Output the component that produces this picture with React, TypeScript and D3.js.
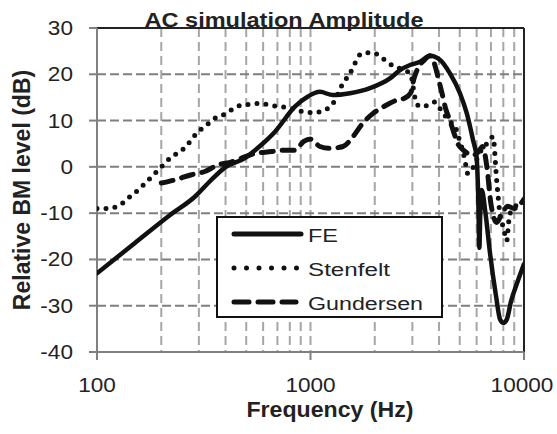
import * as d3 from 'd3';

// values
const feFreq = [100, 150, 220, 288, 340, 398, 493, 580, 682, 845, 973, 1107, 1274, 1531, 1900, 2356, 2625, 2926, 3260, 3631, 4046, 4500, 5011, 5392, 5770, 6000, 6100, 6180, 6240, 6340, 6600, 6930, 7400, 7730, 8000, 8300, 8700, 9300, 10000];
const feDb = [-23, -16.5, -10.4, -6.4, -3, -0.1, 1.9, 4.5, 7.6, 13, 15.2, 16.2, 15.5, 15.9, 17, 19.1, 20.9, 22, 22.7, 24, 23.1, 20.2, 15.9, 11.6, 5.8, 2, -6, -17.5, -10, -5, -10, -18.6, -28, -33, -33.7, -33, -29, -25, -21];

const stenFreq = [100, 110, 125, 143, 156, 171, 187, 204, 224, 249, 272, 293, 320, 357, 398, 451, 511, 580, 667, 780, 910, 1028, 1171, 1274, 1418, 1531, 1616, 1735, 1950, 2165, 2400, 2700, 2950, 3030, 3100, 3250, 3500, 3830, 4130, 4500, 4780, 4930, 5100, 5270, 5460, 5800, 6200, 6700, 7160, 7450, 7750, 8000, 8300, 8550, 8900, 9500, 10000];
const stenDb = [-9, -9, -8.5, -6.4, -5, -3.2, -1.4, 0.4, 2.2, 3.5, 5.4, 7.3, 8.7, 10.5, 11.4, 13, 13.5, 13.7, 13.2, 12.8, 12, 11.7, 12.3, 13.7, 18, 20.2, 22.4, 24.5, 24.7, 23.5, 22, 21, 20, 17, 14.5, 13, 13.2, 14, 11.9, 9.8, 8.5, 6.5, 4.4, 1.8, -1.5, 0, 3, 5, 6.5, -3, -10.8, -13, -16, -10.5, -9, -8, -7.5];

const gunFreq = [200, 232, 277, 320, 368, 428, 476, 550, 658, 730, 845, 930, 1000, 1107, 1232, 1420, 1580, 1735, 1970, 2200, 2530, 2750, 2950, 3050, 3200, 3400, 3630, 3800, 3950, 4150, 4300, 4500, 4700, 4900, 5200, 5500, 5800, 6100, 6400, 6700, 7000, 7450, 7900, 8400, 9000, 10000];
const gunDb = [-3.5, -2.8, -1.7, -1, 0.4, 1.1, 1.9, 2.9, 3.3, 3.6, 3.6, 5.5, 6, 4.4, 4, 4.4, 6.5, 9.1, 11.6, 13, 14.4, 14.8, 16, 19, 21.5, 23, 24, 22.4, 19.5, 15.5, 12.5, 10, 7.3, 5, 3.6, 2.8, 2.5, 3.2, 4.4, 0, -8, -12, -10, -8.5, -9, -7];

const yTicks = [-40, -30, -20, -10, 0, 10, 20, 30];
const xTicks = [100, 1000, 10000];
const xGrid = [200, 300, 400, 500, 600, 700, 800, 900, 1000, 2000, 3000, 4000, 5000, 6000, 7000, 8000, 9000];

const W = 557;
const H = 434;
const left = 97, right = 524, top = 28, bottom = 352;
const font = '"Liberation Sans", Arial, sans-serif';

// the reference glyphs are wider than Arial, so stretch them a bit
const Label = ({ x, y, anchor, size, sx, children, bold }: any) => (
  <text transform={`translate(${x},${y}) scale(${sx},1)`} textAnchor={anchor}
    fontFamily={font} fontSize={size} fontWeight={bold ? 'bold' : 'normal'} fill="#222">{children}</text>
);

export default function App() {
  const x = d3.scaleLog().domain([100, 10000]).range([left, right]);
  const y = d3.scaleLinear().domain([-40, 30]).range([bottom, top]);

  const line = d3.line<[number, number]>()
    .x((d) => x(d[0]))
    .y((d) => y(d[1]))
    .curve(d3.curveMonotoneX);

  const fe = line(feFreq.map((f, i) => [f, feDb[i]]) as [number, number][]) || '';
  const sten = line(stenFreq.map((f, i) => [f, stenDb[i]]) as [number, number][]) || '';
  const gun = line(gunFreq.map((f, i) => [f, gunDb[i]]) as [number, number][]) || '';

  return (
    <svg width={W} height={H} style={{ position: 'absolute', left: 0, top: 0, background: '#fff' }}>
      <defs>
        <clipPath id="plot">
          <rect x={left} y={top} width={right - left} height={bottom - top} />
        </clipPath>
      </defs>

      {/* grid */}
      {xGrid.map((f) => (
        <line key={'gx' + f} x1={x(f)} x2={x(f)} y1={top} y2={bottom}
          stroke="#a6a6a6" strokeWidth={2} strokeDasharray="9 5" />
      ))}
      {yTicks.filter((t) => t > -40 && t < 30).map((t) => (
        <line key={'gy' + t} x1={left} x2={right} y1={y(t)} y2={y(t)}
          stroke="#7f7f7f" strokeWidth={2} strokeDasharray="9 4" />
      ))}

      {/* frame */}
      <line x1={left} x2={right} y1={top} y2={top} stroke="#222" strokeWidth={2} />
      <line x1={right} x2={right} y1={top} y2={bottom} stroke="#222" strokeWidth={2} />
      <line x1={left} x2={left} y1={top} y2={bottom + 8} stroke="#808080" strokeWidth={2} />
      <line x1={left} x2={right} y1={bottom} y2={bottom} stroke="#808080" strokeWidth={2} />
      {yTicks.map((t) => (
        <line key={'ty' + t} x1={left - 8} x2={left} y1={y(t)} y2={y(t)} stroke="#808080" strokeWidth={2} />
      ))}
      {xTicks.map((t) => (
        <line key={'tx' + t} x1={x(t)} x2={x(t)} y1={bottom} y2={bottom + 8} stroke="#808080" strokeWidth={2} />
      ))}

      {/* tick labels */}
      {yTicks.map((t) => (
        <Label key={'ly' + t} x={left - 24} y={y(t) + 7} anchor="end" size={20} sx={1.13}>{t}</Label>
      ))}
      {xTicks.map((t) => (
        <Label key={'lx' + t} x={x(t) - (t === 10000 ? 2 : 0)} y={392} anchor="middle" size={20} sx={1.13}>{t}</Label>
      ))}

      {/* series */}
      <g clipPath="url(#plot)" fill="none" strokeLinejoin="round">
        <path d={sten} stroke="#111" strokeWidth={5} strokeDasharray="0 9" strokeLinecap="round" />
        <path d={gun} stroke="#111" strokeWidth={5} strokeDasharray="12 9" strokeLinecap="round" />
        <path d={fe} stroke="#111" strokeWidth={4.5} strokeLinecap="round" />
      </g>

      {/* titles */}
      <text x={284} y={27} textAnchor="middle" fontFamily={font} fontSize={20} fontWeight="bold"
        fill="#222" textLength={279} lengthAdjust="spacingAndGlyphs">AC simulation Amplitude</text>
      <text x={330} y={417} textAnchor="middle" fontFamily={font} fontSize={22} fontWeight="bold"
        fill="#222" textLength={167} lengthAdjust="spacingAndGlyphs">Frequency (Hz)</text>
      <text transform={`translate(30,${(68 + 312) / 2}) rotate(-90)`} textAnchor="middle"
        fontFamily={font} fontSize={23} fontWeight="bold" fill="#222">Relative BM level (dB)</text>

      {/* legend */}
      <g>
        <rect x={217} y={217} width={225} height={100} fill="#fff" stroke="#111" strokeWidth={2} />
        <line x1={234} x2={301} y1={234} y2={234} stroke="#111" strokeWidth={5} strokeLinecap="round" />
        <line x1={234} x2={297} y1={268} y2={268} stroke="#111" strokeWidth={5} strokeLinecap="round" strokeDasharray="0 12.5" />
        <line x1={234} x2={296} y1={302} y2={302} stroke="#111" strokeWidth={5} strokeLinecap="round" strokeDasharray="15 9" />
        <text x={308} y={242} fontFamily={font} fontSize={18} fill="#222" textLength={30} lengthAdjust="spacingAndGlyphs">FE</text>
        <text x={308} y={276} fontFamily={font} fontSize={18} fill="#222" textLength={82} lengthAdjust="spacingAndGlyphs">Stenfelt</text>
        <text x={308} y={310} fontFamily={font} fontSize={18} fill="#222" textLength={115} lengthAdjust="spacingAndGlyphs">Gundersen</text>
      </g>
    </svg>
  );
}
